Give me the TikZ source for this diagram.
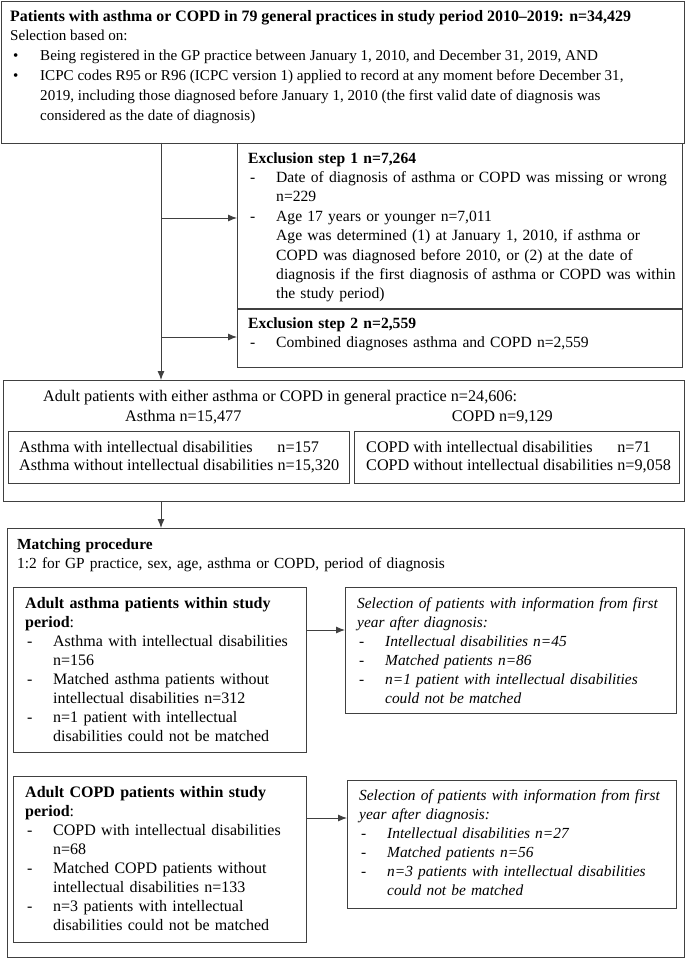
\documentclass[tikz,border=0pt]{standalone}
\usepackage{fontspec}
\setmainfont{Liberation Serif}
\usetikzlibrary{arrows.meta,positioning}

\tikzset{>={Latex[length=9pt,width=7pt]}}
\colorlet{boxcol}{black!75}
\newcommand{\boxfont}{\fontsize{15.6}{19.4}\selectfont}
\newcommand{\widefont}{\fontsize{16.2}{19.4}\selectfont}
\newlength{\dashind}\setlength{\dashind}{28pt}
\newcommand{\dashitem}[1]{\par{\leftskip=\dashind\noindent\llap{\makebox[\dashind][l]{\hspace{2pt}-}}#1\par}}
\newcommand{\bul}{\makebox[30pt][l]{\hspace{3pt}\textbullet}}

\begin{document}
\begin{tikzpicture}[x=1pt,y=-1pt,
    frame/.style={draw=boxcol,line width=0.9pt,anchor=north west,inner sep=0pt},
    txt/.style={anchor=base west,inner sep=0pt,align=left,font=\boxfont},
    link/.style={->,draw=boxcol,line width=0.9pt}]
  \useasboundingbox (0,0) rectangle (685,961);

  % SELECTION
  \node[frame,minimum width=683,minimum height=141.7] (sel) at (1,1) {};
  \node[txt,font=\fontsize{15.1}{19.8}\selectfont] (seltxt) at (10,21)
    {\begin{tabular}[t]{@{}l@{}l@{}}
       \multicolumn{2}{@{}l@{}}{\textbf{\fontsize{15.9}{19.8}\selectfont Patients with asthma or COPD in 79 general practices in study period 2010–2019: n=34,429}}\\
       \multicolumn{2}{@{}l@{}}{Selection based on:}\\
       \bul & Being registered in the GP practice between January 1, 2010, and December 31, 2019, AND\\
       \bul & ICPC codes R95 or R96 (ICPC version 1) applied to record at any moment before December 31,\\
            & 2019, including those diagnosed before January 1, 2010 (the first valid date of diagnosis was\\
            & considered as the date of diagnosis)
     \end{tabular}};

  % EXCLUSIONS
  \node[frame,minimum width=445,minimum height=165.3] (ex1) at (237,142.7) {};
  \node[frame,minimum width=445,minimum height=58] (ex2) at (ex1.south west) {};
  \node[txt,text width=430] (ex1txt) at (248,163)
    {\textbf{Exclusion step 1 n=7,264}
     \dashitem{Date of diagnosis of asthma or COPD was missing or wrong\newline n=229}
     \dashitem{Age 17 years or younger n=7,011\newline
       Age was determined (1) at January 1, 2010, if asthma or\newline
       COPD was diagnosed before 2010, or (2) at the date of\newline
       diagnosis if the first diagnosis of asthma or COPD was within\newline
       the study period)}};
  \node[txt,text width=430] (ex2txt) at (248,328)
    {\textbf{Exclusion step 2 n=2,559}
     \dashitem{Combined diagnoses asthma and COPD n=2,559}};

  % ADULT PATIENTS
  \node[frame,minimum width=681,minimum height=121] (adult) at (3,380) {};
  \node[frame,minimum width=341,minimum height=52] (asthin) at (8,431) {};
  \node[frame,minimum width=325,minimum height=52] (copdin) at (354,431) {};
  \node[txt,font=\widefont] (adulttxt) at (43,401)
    {Adult patients with either asthma or COPD in general practice n=24,606:};
  \node[txt,font=\widefont] (asthn) at (125,421) {Asthma n=15,477};
  \node[txt,font=\widefont,anchor=base east] (copdn) at (553,421) {COPD n=9,129};
  \node[txt,font=\fontsize{16.2}{18.3}\selectfont] (asthintxt) at (19,452)
    {\begin{tabular}[t]{@{}l@{\ }l@{}}
       Asthma with intellectual disabilities & n=157\\
       Asthma without intellectual disabilities & n=15,320
     \end{tabular}};
  \node[txt,font=\fontsize{16.2}{18.3}\selectfont] (copdintxt) at (366,452)
    {\begin{tabular}[t]{@{}l@{\ }l@{}}
       COPD with intellectual disabilities & n=71\\
       COPD without intellectual disabilities & n=9,058
     \end{tabular}};

  % MATCHING
  \node[frame,minimum width=677,minimum height=429] (match) at (7,528) {};
  \node[txt,text width=640,font=\fontsize{15.4}{19.4}\selectfont] (matchtxt) at (17,549)
    {\textbf{Matching procedure}\\
     1:2 for GP practice, sex, age, asthma or COPD, period of diagnosis};

  \node[frame,minimum width=293,minimum height=165] (asth) at (13,587) {};
  \node[txt,text width=280,font=\fontsize{16}{19}\selectfont] (asthtxt) at (25,608)
    {\textbf{Adult asthma patients within study}\\
     \textbf{period}:
     \dashitem{Asthma with intellectual disabilities\newline n=156}
     \dashitem{Matched asthma patients without\newline intellectual disabilities n=312}
     \dashitem{n=1 patient with intellectual\newline disabilities could not be matched}};
  \node[frame,minimum width=331,minimum height=126] (asthsel) at (345,587) {};
  \node[txt,text width=320,font=\fontsize{15.4}{19}\selectfont\itshape] (asthseltxt) at (357,608)
    {Selection of patients with information from first\\
     year after diagnosis:
     \dashitem{Intellectual disabilities n=45}
     \dashitem{Matched patients n=86}
     \dashitem{n=1 patient with intellectual disabilities\newline could not be matched}};

  \node[frame,minimum width=293,minimum height=166] (copd) at (13,776) {};
  \node[txt,text width=280,font=\fontsize{16}{19}\selectfont] (copdtxt) at (25,797)
    {\textbf{Adult COPD patients within study}\\
     \textbf{period}:
     \dashitem{COPD with intellectual disabilities\newline n=68}
     \dashitem{Matched COPD patients without\newline intellectual disabilities n=133}
     \dashitem{n=3 patients with intellectual\newline disabilities could not be matched}};
  \node[frame,minimum width=329,minimum height=128] (copdsel) at (347,780) {};
  \node[txt,text width=320,font=\fontsize{15.4}{19}\selectfont\itshape] (copdseltxt) at (359,800)
    {Selection of patients with information from first\\
     year after diagnosis:
     \dashitem{Intellectual disabilities n=27}
     \dashitem{Matched patients n=56}
     \dashitem{n=3 patients with intellectual disabilities\newline could not be matched}};

  % ARROWS
  \coordinate (trunk) at (161,142.7);
  \coordinate (j1) at (161,218);
  \coordinate (j2) at (161,337);
  \draw[link] (trunk) -- (trunk |- adult.north);
  \draw[link] (j1) -- (j1 -| ex1.west);
  \draw[link] (j2) -- (j2 -| ex2.west);
  \draw[link] (adult.south -| trunk) -- (match.north -| trunk);
  \coordinate (k1) at (306,630);
  \coordinate (k2) at (306,818);
  \draw[link] (k1) -- (k1 -| asthsel.west);
  \draw[link] (k2) -- (k2 -| copdsel.west);
\end{tikzpicture}
\end{document}
